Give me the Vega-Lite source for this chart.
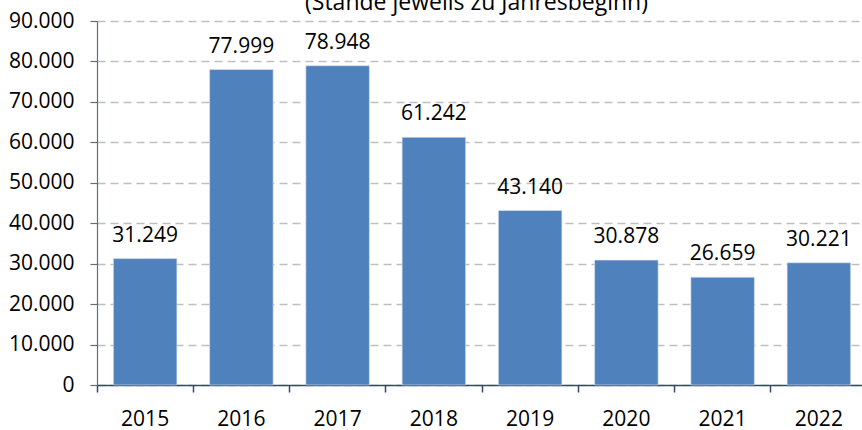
{
  "$schema": "https://vega.github.io/schema/vega-lite/v6.json",
  "autosize": "none",
  "padding": {"left": 97, "top": 21, "right": 0, "bottom": 45},
  "width": 765,
  "height": 364,
  "title": {
    "text": "(Stände jeweils zu Jahresbeginn)",
    "anchor": "middle",
    "frame": "group",
    "baseline": "alphabetic",
    "offset": 0,
    "dy": 23,
    "font": "Open Sans",
    "fontSize": 23,
    "fontWeight": "normal",
    "color": "#000000",
    "dx": -3
  },
  "config": {
    "locale": {"number": {"decimal": ",", "thousands": ".", "grouping": [3], "currency": ["", " €"]}},
    "view": {"stroke": null},
    "font": "Open Sans"
  },
  "data": {
    "values": [
      {"jahr": "2015", "wert": 31249},
      {"jahr": "2016", "wert": 77999},
      {"jahr": "2017", "wert": 78948},
      {"jahr": "2018", "wert": 61242},
      {"jahr": "2019", "wert": 43140},
      {"jahr": "2020", "wert": 30878},
      {"jahr": "2021", "wert": 26659},
      {"jahr": "2022", "wert": 30221}
    ]
  },
  "encoding": {
    "x": {
      "field": "jahr",
      "type": "ordinal",
      "scale": {"paddingInner": 0, "paddingOuter": 0, "range": [0, 770]},
      "axis": {
        "title": null,
        "labelAngle": 0,
        "bandPosition": 0,
        "labelFont": "Open Sans",
        "labelFontSize": 21,
        "labelColor": "#000000",
        "labelPadding": 16,
        "domainColor": "#2f4b6e",
        "domainWidth": 1.5,
        "tickColor": "#2f4b6e",
        "tickWidth": 1.5,
        "tickSize": 7,
        "grid": false
      }
    },
    "y": {
      "field": "wert",
      "type": "quantitative",
      "scale": {"domain": [0, 90000], "nice": false},
      "axis": {
        "title": null,
        "values": [0, 10000, 20000, 30000, 40000, 50000, 60000, 70000, 80000, 90000],
        "format": ",d",
        "labelFont": "Open Sans",
        "labelFontSize": 21,
        "labelColor": "#000000",
        "labelPadding": 16,
        "domainColor": "#5a6e86",
        "domainWidth": 1.2,
        "tickColor": "#5a6e86",
        "tickWidth": 1.2,
        "tickSize": 7,
        "grid": true,
        "gridColor": "#bfbfbf",
        "gridDash": [8, 5],
        "gridWidth": 1.5
      }
    }
  },
  "layer": [
    {
      "mark": {"type": "bar", "width": {"band": 0.66}, "color": "#4f81bd", "stroke": "#dce6f2", "strokeWidth": 0.6}
    },
    {
      "mark": {"type": "text", "baseline": "alphabetic", "dy": -17, "font": "Open Sans", "fontSize": 21, "color": "#000000"},
      "encoding": {"text": {"field": "wert", "type": "quantitative", "format": ",d"}}
    }
  ]
}
